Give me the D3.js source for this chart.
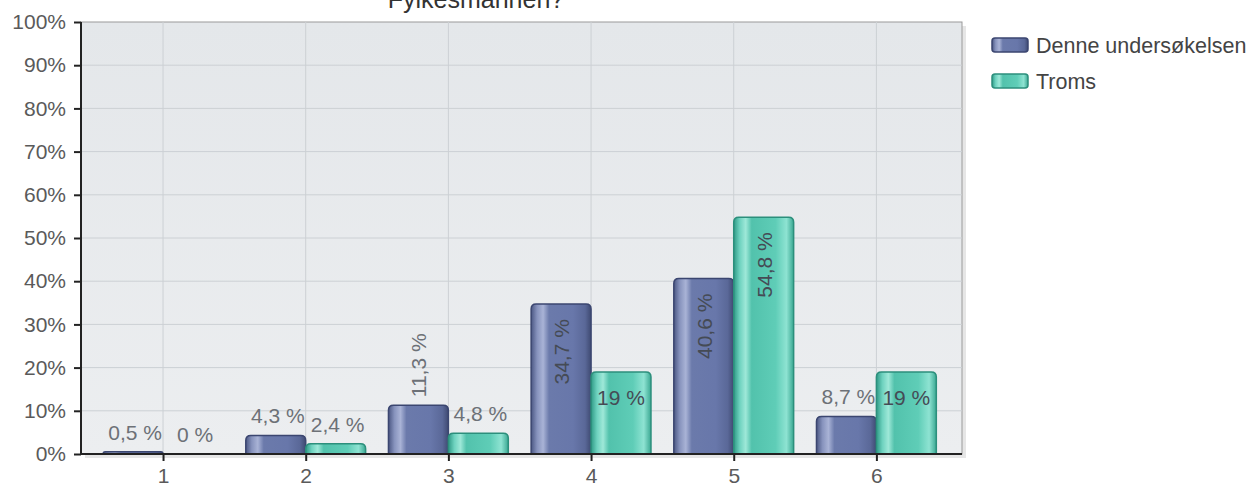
<!DOCTYPE html>
<html>
<head>
<meta charset="utf-8">
<script src="https://cdn.jsdelivr.net/npm/d3@7"></script>
<style>
    body { margin: 0; background: #fff; }
    svg { display: block; font-family: "Liberation Sans", Arial, sans-serif; }
</style>
</head>
<body>
<div id="bar_chart"></div>
<script>
// Data Setup
var categories = [1, 2, 3, 4, 5, 6];
var seriesNames = ["Denne undersøkelsen", "Troms"];
var denneValues = [0.5, 4.3, 11.3, 34.7, 40.6, 8.7];
var tromsValues = [0, 2.4, 4.8, 19, 54.8, 19];
var yTicks = [0, 10, 20, 30, 40, 50, 60, 70, 80, 90, 100];
var titleText = "Fylkesmannen?";

var margin = {top: 22, right: 291, bottom: 34, left: 81};
var totalWidth = 1253, totalHeight = 488;
var width = totalWidth - margin.left - margin.right;
var height = totalHeight - margin.top - margin.bottom;

var svg = d3.select("#bar_chart").append("svg")
    .attr("width", totalWidth)
    .attr("height", totalHeight);

// Gradients for the cylinder look
var defs = svg.append("defs");
function cylinder(id, stops) {
    var g = defs.append("linearGradient").attr("id", id)
        .attr("x1", "0%").attr("x2", "100%").attr("y1", "0%").attr("y2", "0%");
    stops.forEach(function (s) {
        g.append("stop").attr("offset", s[0]).attr("stop-color", s[1]);
    });
}
cylinder("gradBlue", [["0", "#4b5783"], ["0.1", "#8793bd"], ["0.2", "#a9b3d6"], ["0.3", "#6b7aab"], ["0.7", "#6877aa"], ["0.9", "#5a6898"], ["1", "#3f4a72"]]);
cylinder("gradTeal", [["0", "#2f9a86"], ["0.1", "#6ed2bf"], ["0.2", "#9ee8d8"], ["0.3", "#52c2ac"], ["0.7", "#5fcdb7"], ["0.88", "#8ee3d2"], ["1", "#3aa892"]]);
var plotGrad = defs.append("linearGradient").attr("id", "plotBg")
    .attr("x1", "0%").attr("x2", "0%").attr("y1", "0%").attr("y2", "100%");
plotGrad.append("stop").attr("offset", "0").attr("stop-color", "#e4e7ea");
plotGrad.append("stop").attr("offset", "1").attr("stop-color", "#eceef0");

var colors = {fill: ["url(#gradBlue)", "url(#gradTeal)"], stroke: ["#3b4670", "#2c8f7c"]};

var g = svg.append("g")
    .attr("transform", "translate(" + margin.left + "," + margin.top + ")");

// Scales
var xScale = d3.scaleLinear()
    .domain([0.425, 6.6])
    .range([0, width]);

var yScale = d3.scaleLinear()
    .domain([0, 100])
    .range([height, 0]);

var halfBar = 0.42;

// Plot shadow + background
g.append("rect")
    .attr("x", 4).attr("y", 4)
    .attr("width", width).attr("height", height)
    .attr("fill", "#e6e6e6");
g.append("rect")
    .attr("width", width).attr("height", height)
    .attr("fill", "url(#plotBg)")
    .attr("stroke", "#9a9a9a");

// Grid lines
g.selectAll(".hgrid").data(yTicks.slice(1, -1)).enter()
    .append("line")
    .attr("class", "hgrid")
    .attr("x1", 0).attr("x2", width)
    .attr("y1", function (d) { return yScale(d); })
    .attr("y2", function (d) { return yScale(d); })
    .attr("stroke", "#ccd0d4");

g.selectAll(".vgrid").data(categories).enter()
    .append("line")
    .attr("class", "vgrid")
    .attr("y1", 0).attr("y2", height)
    .attr("x1", function (d) { return xScale(d); })
    .attr("x2", function (d) { return xScale(d); })
    .attr("stroke", "#ccd0d4");

// Bars
function barPath(x0, x1, v) {
    var top = yScale(v), bottom = yScale(0), r = Math.min(5, (bottom - top));
    if (bottom - top < 0.5) return "";
    return "M" + x0 + "," + bottom +
        "V" + (top + r) +
        "Q" + x0 + "," + top + " " + (x0 + r) + "," + top +
        "H" + (x1 - r) +
        "Q" + x1 + "," + top + " " + x1 + "," + (top + r) +
        "V" + bottom + "Z";
}

var series = [denneValues, tromsValues];
series.forEach(function (vals, si) {
    var data = categories.map(function (c, i) { return {cat: c, v: vals[i]}; });
    g.selectAll(".bar" + si).data(data).enter()
        .append("path")
        .attr("class", "bar" + si)
        .attr("d", function (d) {
            var x0 = si === 0 ? xScale(d.cat - halfBar) : xScale(d.cat);
            var x1 = si === 0 ? xScale(d.cat) : xScale(d.cat + halfBar);
            return barPath(x0, x1, d.v);
        })
        .attr("fill", colors.fill[si])
        .attr("stroke", colors.stroke[si])
        .attr("stroke-width", 1.5);
});

// Value labels
function fmt(v) { return String(v).replace(".", ",") + " %"; }
series.forEach(function (vals, si) {
    var data = categories.map(function (c, i) { return {cat: c, v: vals[i]}; });
    g.selectAll(".lab" + si).data(data).enter()
        .append("text")
        .attr("class", "lab" + si)
        .attr("font-size", 21)
        .attr("fill", function (d) { return d.v >= 15 ? "#454b55" : "#6d7177"; })
        .attr("text-anchor", function (d) {
            if (d.v >= 30) return "end";
            if (d.v >= 15) return "middle";
            if (d.v >= 10) return "start";
            return "middle";
        })
        .attr("transform", function (d) {
            var cx = xScale(d.cat + (si === 0 ? -halfBar / 2 : halfBar / 2));
            var top = yScale(d.v);
            if (d.v >= 30) return "translate(" + (cx + 8) + "," + (top + 15) + ") rotate(-90)";
            if (d.v >= 15) return "translate(" + cx + "," + (top + 33) + ")";
            if (d.v >= 10) return "translate(" + (cx + 8) + "," + (top - 8) + ") rotate(-90)";
            return "translate(" + (cx + 2) + "," + (top - 12) + ")";
        })
        .text(function (d) { return fmt(d.v); });
});

// Axes
var yAxis = g.append("g")
    .attr("class", "y_axis")
    .call(d3.axisLeft(yScale).tickValues(yTicks).tickSize(7).tickPadding(8)
        .tickFormat(function (d) { return d + "%"; }));
var xAxis = g.append("g")
    .attr("class", "x_axis")
    .attr("transform", "translate(0," + height + ")")
    .call(d3.axisBottom(xScale).tickValues(categories).tickSize(7).tickPadding(7)
        .tickFormat(d3.format("d")));
[yAxis, xAxis].forEach(function (a) {
    a.select(".domain").attr("stroke", "#222").attr("stroke-width", 2);
    a.selectAll(".tick line").attr("stroke", "#222").attr("stroke-width", 2);
    a.selectAll(".tick text").attr("font-size", 21).attr("fill", "#5a5a5a")
        .attr("font-family", "Liberation Sans, Arial, sans-serif");
});
yAxis.select(".domain").attr("d", "M0," + height + "V0");
xAxis.select(".domain").attr("d", "M0,0H" + width);

// Title (partly cut off at the top, as in the original)
svg.append("text")
    .attr("x", 476).attr("y", 8)
    .attr("text-anchor", "middle")
    .attr("font-size", 25)
    .attr("fill", "#333")
    .text(titleText);

// Legend
var legend = svg.append("g").attr("transform", "translate(992,38)");
seriesNames.forEach(function (name, i) {
    var row = legend.append("g").attr("transform", "translate(0," + (i * 36) + ")");
    row.append("rect")
        .attr("width", 36).attr("height", 14)
        .attr("rx", 3)
        .attr("fill", colors.fill[i])
        .attr("stroke", colors.stroke[i])
        .attr("stroke-width", 1.5);
    row.append("text")
        .attr("x", 44).attr("y", 15)
        .attr("font-size", 21.5)
        .attr("fill", "#444")
        .text(name);
});
</script>
</body>
</html>
